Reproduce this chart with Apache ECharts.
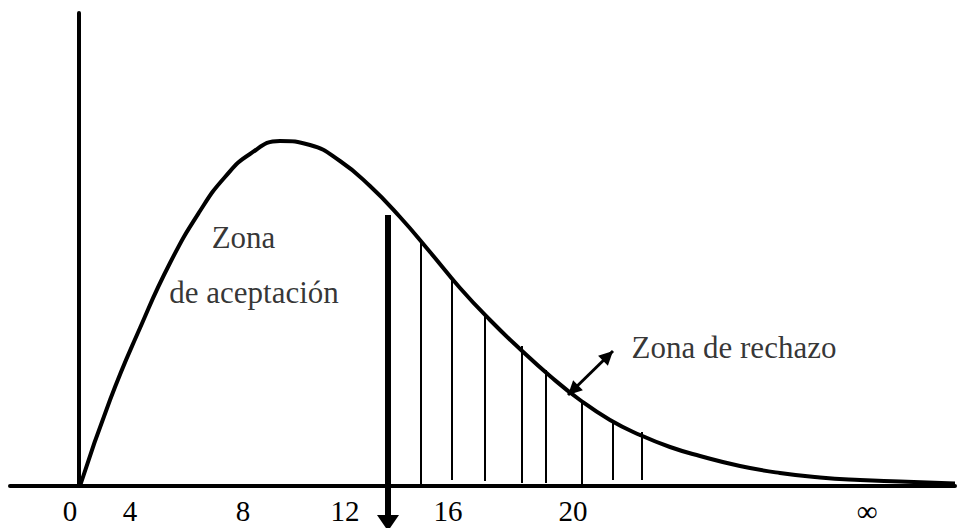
<!DOCTYPE html>
<html>
<head>
<meta charset="utf-8">
<script src="https://cdn.jsdelivr.net/npm/echarts@6/dist/echarts.min.js"></script>
<style>
    html, body { margin: 0; padding: 0; background: #fff; }
    #main { width: 958px; height: 528px; }
</style>
</head>
<body>
<div id="main"></div>
<script>
    // density curve (sketch units: x right of the vertical axis, y height)
    var curveX = [0.1, 3.1, 6.1, 9.1, 12.1, 14.6, 17.1, 20.1, 23.1, 26.1, 29.1, 32.1, 35.1, 38.1,
        41.1, 44.1, 47.1, 50.1, 53.1, 56.1, 59.1, 62.1, 66.1, 70.1, 74.1, 78.1, 82.1, 87.6];
    var curveY = [0, 8.6, 15.8, 22.3, 27.5, 30.9, 33.2, 34.5, 34.1, 32.5, 30.0, 26.9, 23.4, 19.8,
        16.6, 13.7, 11.0, 8.6, 6.6, 5.1, 3.9, 3.0, 2.0, 1.3, 0.85, 0.6, 0.45, 0.25];

    // hatching of the rejection zone
    var hatchX = [34.2, 37.3, 40.6, 44.3, 46.7, 50.3, 53.4, 56.3];
    var hatchTop = [24.5, 20.8, 17.1, 14.0, 11.6, 8.4, 6.4, 5.4];
    var hatchBase = [0, 0.6, 0.5, 0.3, 0.3, 0, 0.6, 0.6];

    // critical value arrow
    var cutX = 30.9;
    var cutTop = 27.1;
    var cutTip = -4.5;

    // axis labels
    var tickLabels = ['0', '4', '8', '12', '16', '20', '∞'];
    var tickPos = [-0.9, 5.1, 16.4, 26.6, 36.9, 49.4, 78.8];

    // annotations
    var notes = ['Zona', 'de aceptación', 'Zona de rechazo'];
    var noteX = [16.45, 17.5, 65.5];
    var noteY = [24.9, 19.4, 13.85];
    var rejFrom = [48.9, 9.1];
    var rejTo = [53.4, 13.5];

    var serif = 'Liberation Serif';

    function head(tip, from, len, half) {
        var dx = tip[0] - from[0], dy = tip[1] - from[1];
        var d = Math.sqrt(dx * dx + dy * dy);
        var ux = dx / d, uy = dy / d;
        var bx = tip[0] - ux * len, by = tip[1] - uy * len;
        return [tip, [bx - uy * half, by + ux * half], [bx + uy * half, by - ux * half]];
    }

    var chart = echarts.init(document.getElementById('main'), null, {renderer: 'svg'});
    chart.setOption({
        animation: false,
        backgroundColor: '#fff',
        grid: {left: 10, right: 3, top: 13, bottom: 42, outerBoundsMode: 'none'},
        xAxis: {
            type: 'value',
            min: -6.9,
            max: 87.6,
            splitLine: {show: false},
            axisTick: {show: false},
            axisLine: {lineStyle: {color: '#000', width: 4}},
            axisLabel: {
                customValues: tickPos,
                margin: 10,
                color: '#000',
                fontSize: 29,
                fontFamily: serif,
                formatter: function (v) {
                    var i = tickPos.indexOf(v);
                    return i < 0 ? '' : tickLabels[i];
                }
            }
        },
        yAxis: {
            type: 'value',
            min: 0,
            max: 47.3,
            splitLine: {show: false},
            axisTick: {show: false},
            axisLabel: {show: false},
            axisLine: {show: true, onZero: true, lineStyle: {color: '#000', width: 4}}
        },
        series: [
            {
                type: 'line',
                data: curveX.map(function (x, i) { return [x, curveY[i]]; }),
                smooth: 0.5,
                showSymbol: false,
                lineStyle: {color: '#000', width: 4},
                z: 3
            },
            {
                type: 'custom',
                data: hatchX.map(function (x, i) { return [x, hatchBase[i], hatchTop[i]]; }),
                renderItem: function (params, api) {
                    var p0 = api.coord([api.value(0), api.value(1)]);
                    var p1 = api.coord([api.value(0), api.value(2)]);
                    return {
                        type: 'line',
                        shape: {x1: p0[0], y1: p0[1], x2: p1[0], y2: p1[1]},
                        style: {stroke: '#000', lineWidth: 2}
                    };
                }
            },
            {
                type: 'custom',
                clip: false,
                data: [[cutX, cutTop, cutTip]],
                renderItem: function (params, api) {
                    var top = api.coord([api.value(0), api.value(1)]);
                    var tip = api.coord([api.value(0), api.value(2)]);
                    var h = head(tip, top, 16, 11);
                    return {
                        type: 'group',
                        children: [
                            {type: 'line', shape: {x1: top[0], y1: top[1], x2: tip[0], y2: tip[1] - 12},
                                style: {stroke: '#000', lineWidth: 6}},
                            {type: 'polygon', shape: {points: h}, style: {fill: '#000'}}
                        ]
                    };
                },
                z: 4
            },
            {
                type: 'custom',
                data: [[rejFrom[0], rejFrom[1], rejTo[0], rejTo[1]]],
                renderItem: function (params, api) {
                    var a = api.coord([api.value(0), api.value(1)]);
                    var b = api.coord([api.value(2), api.value(3)]);
                    return {
                        type: 'group',
                        children: [
                            {type: 'line', shape: {x1: a[0], y1: a[1], x2: b[0], y2: b[1]},
                                style: {stroke: '#000', lineWidth: 3}},
                            {type: 'polygon', shape: {points: head(a, b, 14, 7)}, style: {fill: '#000'}},
                            {type: 'polygon', shape: {points: head(b, a, 14, 7)}, style: {fill: '#000'}}
                        ]
                    };
                }
            },
            {
                type: 'scatter',
                symbolSize: 0,
                data: notes.map(function (t, i) { return [noteX[i], noteY[i]]; }),
                label: {
                    show: true,
                    position: 'inside',
                    formatter: function (p) { return notes[p.dataIndex]; },
                    color: '#000',
                    fontSize: 31,
                    fontFamily: serif
                },
                silent: true
            }
        ]
    });
</script>
</body>
</html>
